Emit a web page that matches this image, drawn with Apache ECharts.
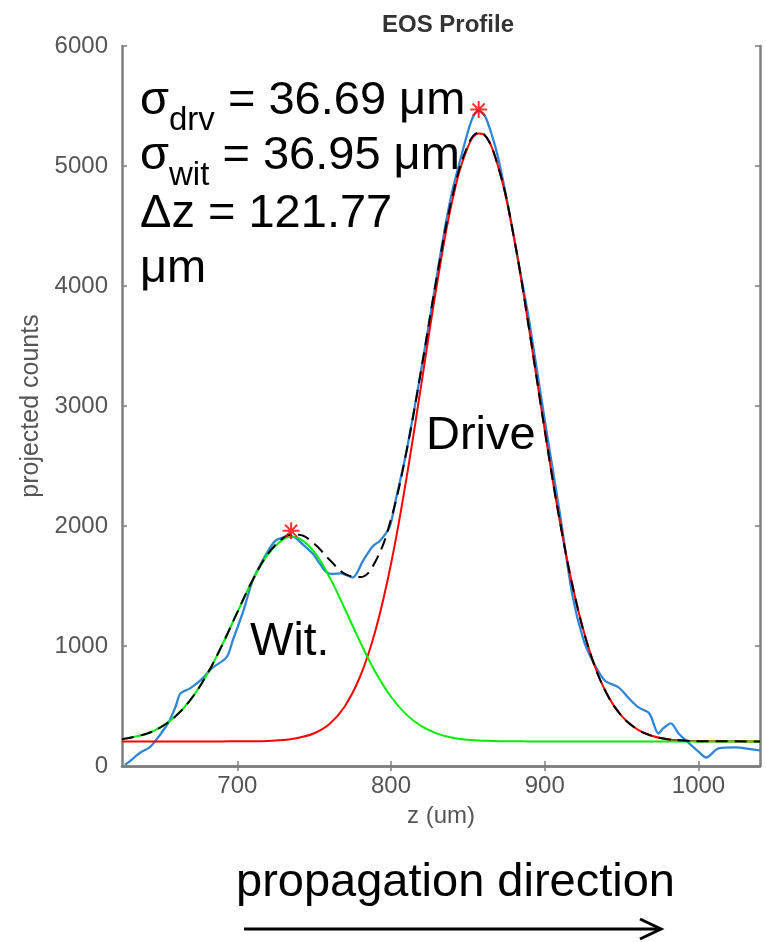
<!DOCTYPE html>
<html>
<head>
<meta charset="utf-8">
<script src="https://cdn.jsdelivr.net/npm/echarts@6/dist/echarts.min.js"></script>
<style>
html,body{margin:0;padding:0;background:#fff;}
#chart{width:766px;height:942px;}
</style>
</head>
<body>
<div id="chart"></div>
<script>
// ---- data ----
const xTicks = [700, 800, 900, 1000];
const yTicks = [0, 1000, 2000, 3000, 4000, 5000, 6000];

// measured profile (blue)
const dataZ = [627,632,637,643,648,652,656,660,663,669,676,684,693,697,704,710,719,725,730,734,738,741,749,754,758,762,767,771,775,782,788,793,799,803,810,820,830,836,840,845,849,853,857,861,866,870,877,885,890,900,910,918,925,931,939,948,955,961,968,974,977,982,987,994,1000,1005,1013,1024,1035,1040];
const dataV = [10,60,113,155,230,300,380,500,605,645,713,820,905,1045,1295,1545,1770,1880,1905,1920,1900,1865,1770,1680,1615,1600,1605,1590,1570,1715,1830,1880,1990,2215,2620,3330,4100,4550,4800,5050,5240,5400,5460,5420,5240,5050,4610,4050,3700,2880,2090,1420,1060,880,713,655,560,488,438,271,313,355,271,188,120,71,146,155,138,130];

// fit curves
const fitZ = [625,640,650,660,670,680,690,700,710,720,730,735,740,750,760,770,780,790,800,810,820,830,840,850,857,860,870,880,890,900,910,920,930,940,950,960,970,980,990,1000,1040];
const driveFit = [205,205,205,205,205,205,205,206,206,208,216,224,235,273,350,498,748,1135,1685,2395,3205,4025,4720,5160,5270,5265,4980,4400,3625,2795,2025,1392,925,610,417,307,250,223,212,207,205];
const witFit = [224,265,322,416,559,757,1004,1280,1549,1766,1891,1910,1898,1784,1574,1308,1031,779,577,428,330,270,236,219,213,211,207,206,205,205,205,205,205,205,205,205,205,205,205,205,205];
const totalFit = [224,265,322,416,559,757,1004,1281,1550,1769,1902,1929,1928,1852,1719,1601,1574,1709,2057,2618,3330,4090,4751,5174,5278,5271,4982,4401,3625,2795,2025,1392,925,610,417,307,250,223,212,207,205];

// peak markers
const peakZ = [735, 857];
const peakV = [1960, 5470];

const zip = (a, b) => a.map((v, i) => [v, b[i]]);

const star = 'path://M8.8,0L11.2,0L11.2,20L8.8,20Z M0,8.8L20,8.8L20,11.2L0,11.2Z M2,3.7L3.7,2L18,16.3L16.3,18Z M16.3,2L18,3.7L3.7,18L2,16.3Z';

const chart = echarts.init(document.getElementById('chart'), null, {renderer: 'canvas'});
const axisGray = '#7f7f7f';
const labelGray = '#555';
const fontFam = '"Liberation Sans", Arial, Helvetica, sans-serif';

const baseX = {
  type: 'value', min: 625, max: 1040,
  axisLine: {show: true, lineStyle: {color: axisGray, width: 2.5}},
  axisTick: {show: true, inside: true, length: 5, customValues: xTicks, lineStyle: {color: axisGray, width: 1.5}},
  splitLine: {show: false}
};
const baseY = {
  type: 'value', min: 0, max: 6000, interval: 1000,
  axisLine: {show: true, lineStyle: {color: axisGray, width: 2.5}},
  axisTick: {show: true, inside: true, length: 5, lineStyle: {color: axisGray, width: 1.5}},
  splitLine: {show: false}
};

const subRich = {
  a: {fontFamily: fontFam, fontSize: 47, fill: '#000', lineHeight: 52, verticalAlign: 'bottom'},
  s: {fontFamily: fontFam, fontSize: 33, fill: '#000', lineHeight: 52, verticalAlign: 'bottom', padding: [0,0,-12,0]}
};

const option = {
  backgroundColor: '#fff',
  animation: false,
  title: {
    text: 'EOS Profile',
    left: 443, top: 8, textAlign: 'center',
    textStyle: {fontFamily: fontFam, fontSize: 24, fontWeight: 'bold', color: '#333'}
  },
  grid: {left: 122, right: 6, top: 46, bottom: 176, containLabel: false},
  xAxis: [
    Object.assign({}, baseX, {
      position: 'bottom',
      name: 'z (um)', nameLocation: 'middle', nameGap: 38,
      nameTextStyle: {fontFamily: fontFam, fontSize: 24, color: labelGray},
      axisLabel: {show: true, customValues: xTicks, margin: 8, fontFamily: fontFam, fontSize: 24, color: labelGray,
                  formatter: v => String(v)}
    }),
    Object.assign({}, baseX, {position: 'top', axisLabel: {show: false}})
  ],
  yAxis: [
    Object.assign({}, baseY, {
      position: 'left',
      name: 'projected counts', nameLocation: 'middle', nameGap: 72, nameRotate: 90,
      nameTextStyle: {fontFamily: fontFam, fontSize: 25, color: labelGray},
      axisLabel: {show: true, margin: 14, fontFamily: fontFam, fontSize: 24, color: labelGray,
                  formatter: v => String(v)}
    }),
    Object.assign({}, baseY, {position: 'right', axisLabel: {show: false}})
  ],
  series: [
    {type: 'line', name: 'data', data: zip(dataZ, dataV), showSymbol: false, smooth: 0.3,
     lineStyle: {color: '#2f86d6', width: 2.3}, z: 2},
    {type: 'line', name: 'drive', data: zip(fitZ, driveFit), showSymbol: false, smooth: 0.4,
     lineStyle: {color: '#ff0000', width: 2}, z: 3},
    {type: 'line', name: 'witness', data: zip(fitZ, witFit), showSymbol: false, smooth: 0.4,
     lineStyle: {color: '#00ee00', width: 2}, z: 4},
    {type: 'line', name: 'total', data: zip(fitZ, totalFit), showSymbol: false, smooth: 0.4,
     lineStyle: {color: '#000', width: 2, type: [12, 7]}, z: 5},
    {type: 'scatter', name: 'peaks', data: zip(peakZ, peakV), symbol: star, symbolSize: 17,
     itemStyle: {color: '#ff0000'}, z: 6}
  ],
  graphic: [
    {type: 'text', left: 140, top: 78, z: 10, style: {text: '{a|σ}{s|drv}{a| = 36.69 μm}', rich: subRich}},
    {type: 'text', left: 140, top: 133, z: 10, style: {text: '{a|σ}{s|wit}{a| = 36.95 μm}', rich: subRich}},
    {type: 'text', left: 140, top: 191, z: 10, style: {
      text: 'Δz = 121.77', fontFamily: fontFam, fontSize: 47, fill: '#000'}},
    {type: 'text', left: 140, top: 246, z: 10, style: {
      text: 'μm', fontFamily: fontFam, fontSize: 47, fill: '#000'}},
    {type: 'text', left: 250, top: 619, z: 10, style: {
      text: 'Wit.', fontFamily: fontFam, fontSize: 46, fill: '#000'}},
    {type: 'text', left: 426, top: 413, z: 10, style: {
      text: 'Drive', fontFamily: fontFam, fontSize: 47, fill: '#000'}},
    {type: 'text', left: 236, top: 860, z: 10, style: {
      text: 'propagation direction', fontFamily: fontFam, fontSize: 47, fill: '#000'}},
    {type: 'line', z: 10, shape: {x1: 244, y1: 929, x2: 660, y2: 929}, style: {stroke: '#000', lineWidth: 3}},
    {type: 'polyline', z: 10, shape: {points: [[640, 919], [661, 929], [640, 939]]}, style: {stroke: '#000', lineWidth: 3, fill: null}}
  ]
};
chart.setOption(option);
</script>
</body>
</html>
